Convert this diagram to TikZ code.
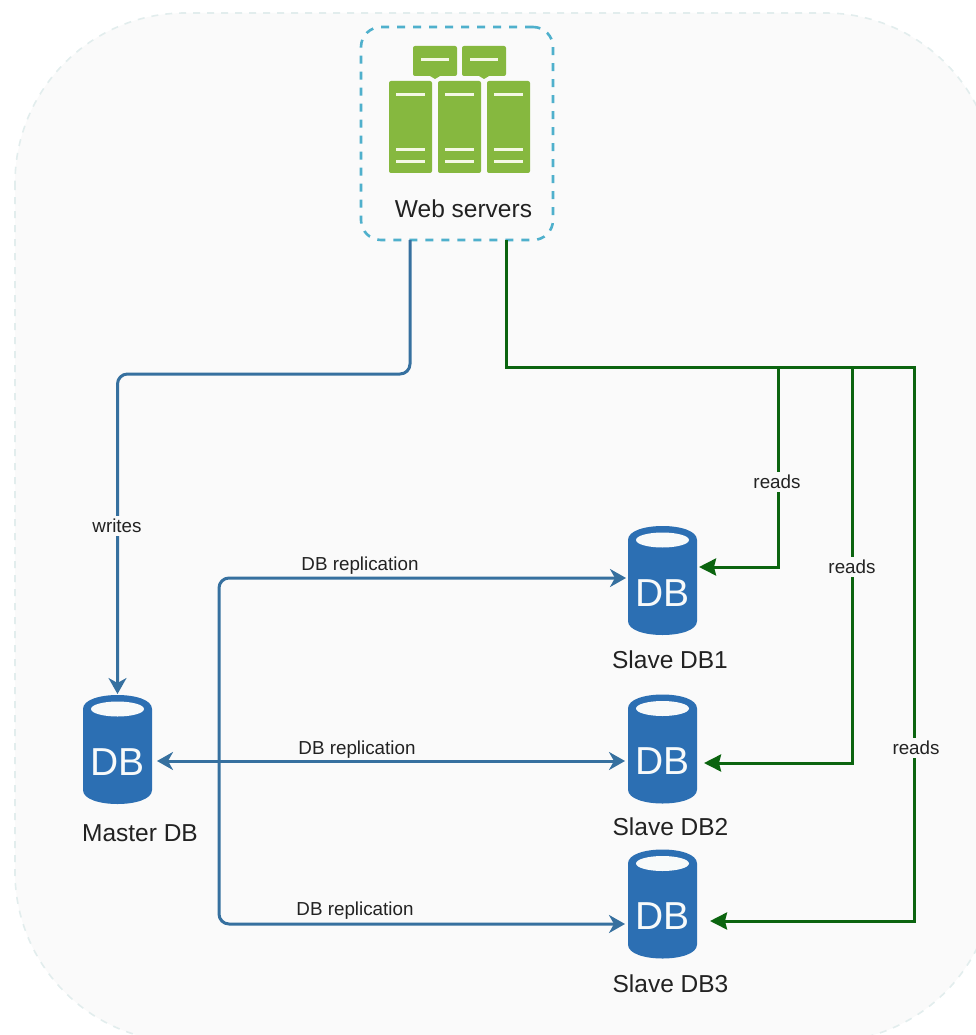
\documentclass[tikz,border=0pt]{standalone}
\usepackage{fontspec}
\setmainfont{Liberation Sans}
\usetikzlibrary{arrows.meta}
\definecolor{panelfill}{HTML}{FAFAFA}
\definecolor{paneledge}{HTML}{E2EDED}
\definecolor{webedge}{HTML}{4FB0CC}
\definecolor{srvgreen}{HTML}{86B83F}
\definecolor{srvline}{HTML}{F4F8E4}
\definecolor{dbhole}{HTML}{F8FAFA}
\definecolor{dbblue}{HTML}{2C6FB3}
\definecolor{wireblue}{HTML}{36709F}
\definecolor{wiregreen}{HTML}{0B640F}
\definecolor{inktext}{HTML}{222222}
\tikzset{
  panel/.style={draw=paneledge,fill=panelfill,line width=1.6pt,dash pattern=on 7pt off 7pt,rounded corners=170pt},
  webbox/.style={draw=webedge,line width=2.6pt,dash pattern=on 8pt off 8pt,rounded corners=20pt,minimum width=192pt,minimum height=213pt,inner sep=0pt,outer sep=0pt},
  dbbox/.style={minimum width=69pt,minimum height=109pt,inner sep=0pt,outer sep=0pt},
  dbtext/.style={text=dbhole,font=\fontsize{39}{39}\selectfont,inner sep=0pt},
  bigtext/.style={text=inktext,font=\fontsize{24.5}{28}\selectfont,inner sep=0pt},
  smalltext/.style={text=inktext,font=\fontsize{18.8}{22}\selectfont,inner sep=1pt},
  wirelabel/.style={smalltext,fill=panelfill,inner xsep=1pt,inner ysep=3pt},
  bluewire/.style={draw=wireblue,line width=3pt},
  greenwire/.style={draw=wiregreen,line width=3pt},
  bluetip/.style={-{Stealth[length=16pt,width=18pt,inset=5pt]}},
  bluetips/.style={{Stealth[length=16pt,width=18pt,inset=5pt]}-{Stealth[length=16pt,width=18pt,inset=5pt]}},
  greentip/.style={-{Stealth[length=17pt,width=17pt,inset=2pt]}},
}
\newcommand{\dbcyl}[4]{%
  \begin{scope}[shift={(#2,#3)}]
    \fill[dbblue] (-34.5,-40.5) .. controls (-34.5,-50) and (-17,-54.5) .. (0,-54.5)
      .. controls (17,-54.5) and (34.5,-50) .. (34.5,-40.5) -- (34.5,40.5)
      .. controls (34.5,50) and (17,54.5) .. (0,54.5)
      .. controls (-17,54.5) and (-34.5,50) .. (-34.5,40.5) -- cycle;
    \fill[dbhole] (0,-40.5) ellipse [x radius=26.5,y radius=7.5];
  \end{scope}
  \node[dbbox] (#1) at (#2,#3) {};
  \node[dbtext] (#1t) at ([yshift=-12.5pt]#1.center) {#4};
}
\newcommand{\srvbar}[1]{%
  \fill[srvgreen,rounded corners=2pt] (#1,81) -- (#1+43,81) -- (#1+43,173) -- (#1,173) -- cycle;
  \fill[srvline] (#1+7,93.5) rectangle (#1+36,96.5);
  \fill[srvline] (#1+7,148.5) rectangle (#1+36,151.5);
  \fill[srvline] (#1+7,160.5) rectangle (#1+36,163.5);
}
\newcommand{\srvtop}[1]{%
  \fill[srvgreen,rounded corners=2pt] (#1,46) -- (#1+44,46) -- (#1+44,76) -- (#1,76) -- cycle;
  \fill[srvgreen] (#1+17,76) -- (#1+27,76) -- (#1+22,79) -- cycle;
  \fill[srvline] (#1+8,58.5) rectangle (#1+36,61.5);
}
\begin{document}
\begin{tikzpicture}[x=1pt,y=-1pt]
  \useasboundingbox (0,0) rectangle (976,1035);
  \begin{scope}
    \clip (0,0) rectangle (976,1035);
    \path[panel] (15,13) rectangle (995,1042);
  \end{scope}

  % web servers
  \node[webbox] (web) at (457,133.5) {};
  \srvtop{413}
  \srvtop{462}
  \srvbar{389}
  \srvbar{438}
  \srvbar{487}
  \node[bigtext] (weblabel) at (463.5,209) {Web servers};

  % databases
  \dbcyl{master}{117.5}{749.5}{DB}
  \dbcyl{sone}{662.5}{580.5}{DB}
  \dbcyl{stwo}{662.5}{749}{DB}
  \dbcyl{sthree}{662.5}{904}{DB}
  \node[bigtext] (masterlabel) at (140,833) {Master DB};
  \node[bigtext] (sonelabel) at (670,660) {Slave DB1};
  \node[bigtext] (stwolabel) at (670.5,827) {Slave DB2};
  \node[bigtext] (sthreelabel) at (670.5,984) {Slave DB3};

  % connector ends
  \coordinate (wl) at ([xshift=-47pt]web.south);
  \coordinate (wr) at ([xshift=49pt]web.south);
  \coordinate (mtop) at ([yshift=1pt]master.north);
  \coordinate (meast) at ([shift={(5,11.5)}]master.east);
  \coordinate (wbend) at (117.5,374);
  \coordinate (onew) at ([shift={(-2,-2.5)}]sone.west);
  \coordinate (twow) at ([shift={(-3,12)}]stwo.west);
  \coordinate (threew) at ([shift={(-3,20)}]sthree.west);
  \coordinate (onee) at ([shift={(2,-13.5)}]sone.east);
  \coordinate (twoe) at ([shift={(7,14)}]stwo.east);
  \coordinate (threee) at ([shift={(13,17)}]sthree.east);
  \coordinate (rtrunk) at (219,749);
  \coordinate (gtop) at (506,367);
  \coordinate (gone) at (778,367);
  \coordinate (gtwo) at (852,367);
  \coordinate (gthree) at (914,367);
  \coordinate (gcorner) at (914,921);

  % blue connectors
  \draw[bluewire,bluetip,rounded corners=10pt] (wl) |- (wbend) -- (mtop);
  \draw[bluewire,bluetips,rounded corners=10pt] (onew) -| (rtrunk) |- (threew);
  \draw[bluewire,bluetips] (meast) -- (twow);

  % green connectors
  \draw[greenwire,greentip] (wr) |- (gthree) -- (gcorner) -- (threee);
  \draw[greenwire,greentip] (gone) |- (onee);
  \draw[greenwire,greentip] (gtwo) |- (twoe);

  % labels
  \node[wirelabel] (lwrites) at (117,526) {writes};
  \node[wirelabel] (lreadone) at (777,482) {reads};
  \node[wirelabel] (lreadtwo) at (852,567) {reads};
  \node[wirelabel] (lreadthree) at (916,748) {reads};
  \node[smalltext] (lrepone) at (360,565.5) {DB replication};
  \node[smalltext] (lreptwo) at (357,750) {DB replication};
  \node[smalltext] (lrepthree) at (355,911) {DB replication};
\end{tikzpicture}
\end{document}
